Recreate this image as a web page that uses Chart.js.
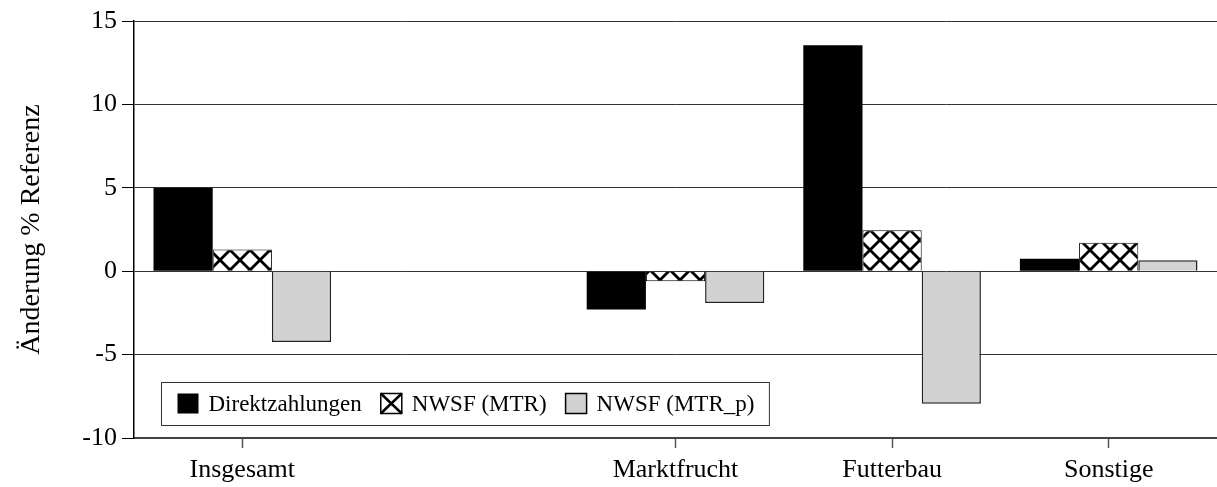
<!DOCTYPE html>
<html lang="de">
<head>
<meta charset="utf-8">
<title>Änderung % Referenz</title>
<script src="https://cdn.jsdelivr.net/npm/chart.js@4.4.0/dist/chart.umd.min.js"></script>
<style>
    html, body { margin: 0; padding: 0; background: #fff; }
    .chart-box { position: relative; width: 1217px; height: 487px; }
</style>
</head>
<body>
<div class="chart-box"><canvas id="changeChart"></canvas></div>
<script>
// Werte (Änderung in % zur Referenz)
const categories = ['Insgesamt', '', 'Marktfrucht', 'Futterbau', 'Sonstige'];
const direktzahlungen = [5.0, null, -2.3, 13.55, 0.75];
const nwsfMtr = [1.3, null, -0.6, 2.45, 1.7];
const nwsfMtrP = [-4.25, null, -1.9, -7.95, 0.65];
const yTicks = [-10, -5, 0, 5, 10, 15];

const SERIF = '"Liberation Serif", "Times New Roman", serif';

document.addEventListener('DOMContentLoaded', function () {
    initChangeChart();
});

// Kreuzschraffur fuer NWSF (MTR)
function makeCrossPattern() {
    const size = 20;
    const c = document.createElement('canvas');
    c.width = size;
    c.height = size;
    const g = c.getContext('2d');
    g.fillStyle = '#fff';
    g.fillRect(0, 0, size, size);
    g.strokeStyle = '#000';
    g.lineWidth = 2.8;
    [-size, 0, size].forEach(off => {
        g.beginPath();
        g.moveTo(off - 2, -2);
        g.lineTo(off + size + 2, size + 2);
        g.stroke();
        g.beginPath();
        g.moveTo(off - 2, size + 2);
        g.lineTo(off + size + 2, -2);
        g.stroke();
    });
    return g.createPattern(c, 'repeat');
}

// Legende mit Rahmen innerhalb der Zeichenflaeche
const boxLegend = {
    id: 'boxLegend',
    afterDraw(chart) {
        const { ctx, chartArea } = chart;
        ctx.save();
        ctx.font = '23px ' + SERIF;
        const items = chart.data.datasets.map(ds => ({ ds, w: ctx.measureText(ds.label).width }));
        const sw = 21, gapText = 10, gapItem = 19, padL = 16, padR = 15, h = 43;
        const width = padL + padR + items.reduce((s, it) => s + sw + gapText + it.w, 0) + gapItem * (items.length - 1);
        const left = Math.round(chartArea.left + 27) + 0.5;
        const top = Math.round(chartArea.bottom - 13 - h) + 0.5;

        ctx.fillStyle = '#fff';
        ctx.fillRect(left, top, width, h);
        ctx.strokeStyle = '#333';
        ctx.lineWidth = 1;
        ctx.strokeRect(left, top, width, h);

        let x = left + padL;
        const sy = top + 11;
        items.forEach(it => {
            const kind = it.ds.swatch;
            if (kind === 'solid') {
                ctx.fillStyle = '#000';
                ctx.fillRect(x, sy, sw, 20);
            } else if (kind === 'cross') {
                ctx.fillStyle = '#fff';
                ctx.fillRect(x, sy, sw, 20);
                ctx.strokeStyle = '#000';
                ctx.lineWidth = 2.5;
                ctx.beginPath();
                ctx.moveTo(x, sy); ctx.lineTo(x + sw, sy + 20);
                ctx.moveTo(x + sw, sy); ctx.lineTo(x, sy + 20);
                ctx.stroke();
                ctx.lineWidth = 1.5;
                ctx.strokeRect(x, sy, sw, 20);
            } else {
                ctx.fillStyle = '#d2d2d2';
                ctx.fillRect(x, sy, sw, 20);
                ctx.strokeStyle = '#000';
                ctx.lineWidth = 1.5;
                ctx.strokeRect(x, sy, sw, 20);
            }
            ctx.fillStyle = '#000';
            ctx.textBaseline = 'middle';
            ctx.textAlign = 'left';
            ctx.fillText(it.ds.label, x + sw + gapText, top + h / 2 + 1);
            x += sw + gapText + it.w + gapItem;
        });
        ctx.restore();
    }
};

function initChangeChart() {
    const canvas = document.getElementById('changeChart');
    if (!canvas) return;

    Chart.defaults.color = '#000';
    Chart.defaults.font.family = SERIF;

    new Chart(canvas, {
        type: 'bar',
        data: {
            labels: categories,
            datasets: [
                {
                    label: 'Direktzahlungen',
                    swatch: 'solid',
                    data: direktzahlungen,
                    backgroundColor: '#000',
                    borderWidth: 0
                },
                {
                    label: 'NWSF (MTR)',
                    swatch: 'cross',
                    data: nwsfMtr,
                    backgroundColor: makeCrossPattern(),
                    borderColor: '#000',
                    borderWidth: 1
                },
                {
                    label: 'NWSF (MTR_p)',
                    swatch: 'gray',
                    data: nwsfMtrP,
                    backgroundColor: '#d2d2d2',
                    borderColor: '#222',
                    borderWidth: 1.5
                }
            ]
        },
        options: {
            responsive: true,
            maintainAspectRatio: false,
            animation: false,
            categoryPercentage: 0.82,
            barPercentage: 1,
            layout: { padding: { top: 21, right: 0, bottom: 0, left: 0 } },
            plugins: {
                legend: { display: false },
                tooltip: { enabled: false }
            },
            scales: {
                x: {
                    grid: {
                        offset: false,
                        drawOnChartArea: false,
                        drawTicks: true,
                        tickLength: 10,
                        tickColor: (c) => (c.tick && c.tick.label === '') ? 'rgba(0,0,0,0)' : '#555',
                        tickWidth: 1.5
                    },
                    border: { display: true, color: '#444', width: 2 },
                    ticks: {
                        font: { size: 26 },
                        padding: 7,
                        maxRotation: 0,
                        autoSkip: false
                    },
                    afterFit: (scale) => { scale.height = 49; }
                },
                y: {
                    min: yTicks[0],
                    max: yTicks[yTicks.length - 1],
                    ticks: {
                        stepSize: 5,
                        font: { size: 26 },
                        padding: 5
                    },
                    grid: {
                        color: '#333',
                        lineWidth: 1,
                        tickLength: 12,
                        tickColor: '#000'
                    },
                    border: { display: true, color: '#000', width: 1.5 },
                    title: {
                        display: true,
                        text: 'Änderung % Referenz',
                        font: { size: 28 },
                        padding: { top: 15, bottom: 0 }
                    },
                    afterFit: (scale) => { scale.width = 134; }
                }
            }
        },
        plugins: [boxLegend]
    });
}
</script>
</body>
</html>
